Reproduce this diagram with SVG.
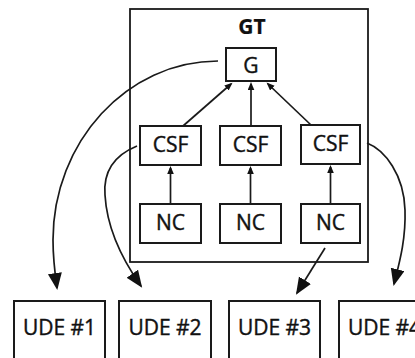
<svg xmlns="http://www.w3.org/2000/svg" width="415" height="358" viewBox="0 0 415 358">
<style>
.box{fill:#fff;stroke:#1a1a1a;stroke-width:2}
.frame{fill:none;stroke:#1a1a1a;stroke-width:1.8}
.lbl{font-family:"Open Sans","Noto Sans",sans-serif;font-size:21px;fill:#111;stroke:#111;stroke-width:0.4;text-anchor:middle}
.conn{fill:none;stroke:#1a1a1a;stroke-width:1.7}
.big{marker-end:url(#ahBig)}
.small{marker-end:url(#ahSmall)}
</style>
<defs>
<marker id="ahBig" markerUnits="userSpaceOnUse" markerWidth="19" markerHeight="15" refX="15" refY="7" orient="auto">
<path d="M0,0 L17,7 L0,14 z" fill="#111"/>
</marker>
<marker id="ahSmall" markerUnits="userSpaceOnUse" markerWidth="9" markerHeight="8" refX="6" refY="3.3" orient="auto">
<path d="M0,0 L8,3.3 L0,6.6 z" fill="#111"/>
</marker>
</defs>
<g id="GT">
<rect class="frame" x="130" y="9" width="238" height="253"/>
<text class="lbl" x="252" y="34" style="font-weight:bold;font-size:21px;stroke-width:0.2">GT</text>
</g>
<g id="G">
<rect class="box" x="226" y="48" width="50" height="33"/>
<text class="lbl" x="251" y="73">G</text>
</g>
<g id="CSF1">
<rect class="box" x="140" y="126" width="61" height="39"/>
<text class="lbl" x="170.5" y="152">CSF</text>
</g>
<g id="CSF2">
<rect class="box" x="220" y="126" width="61" height="39"/>
<text class="lbl" x="250.5" y="152">CSF</text>
</g>
<g id="CSF3">
<rect class="box" x="301" y="125" width="59" height="39"/>
<text class="lbl" x="330.5" y="151">CSF</text>
</g>
<g id="NC1">
<rect class="box" x="140" y="204" width="61" height="39"/>
<text class="lbl" x="170.5" y="230">NC</text>
</g>
<g id="NC2">
<rect class="box" x="220" y="204" width="61" height="39"/>
<text class="lbl" x="250.5" y="230">NC</text>
</g>
<g id="NC3">
<rect class="box" x="301" y="204" width="59" height="39"/>
<text class="lbl" x="330.5" y="230">NC</text>
</g>
<g id="UDE1">
<rect class="box" x="14" y="301" width="91" height="80"/>
<text class="lbl" x="59.5" y="335">UDE #1</text>
</g>
<g id="UDE2">
<rect class="box" x="119" y="301" width="92" height="80"/>
<text class="lbl" x="165" y="335">UDE #2</text>
</g>
<g id="UDE3">
<rect class="box" x="229" y="301" width="91" height="80"/>
<text class="lbl" x="274.5" y="335">UDE #3</text>
</g>
<g id="UDE4">
<rect class="box" x="339" y="301" width="91" height="80"/>
<text class="lbl" x="384.5" y="335">UDE #4</text>
</g>
<g id="connectors">
<path class="conn small" d="M183,126 L231,84"/>
<path class="conn small" d="M251,126 L251,84"/>
<path class="conn small" d="M311,125 L268,84"/>
<path class="conn small" d="M170.5,204 L170.5,168"/>
<path class="conn small" d="M250.5,204 L250.5,168"/>
<path class="conn small" d="M330.5,204 L330.5,167"/>
<path class="conn big" d="M218,61 C127,61 53,142 53,240 C53,258 55,274 57,288"/>
<path class="conn big" d="M137,146 C115,155 103,170 105,195 C107,230 124,262 141,286"/>
<path class="conn big" d="M367,143 C385,150 404,175 405,210 C406,240 399,264 394,284"/>
<path class="conn big" d="M325,248 L297,293"/>
</g>
</svg>
